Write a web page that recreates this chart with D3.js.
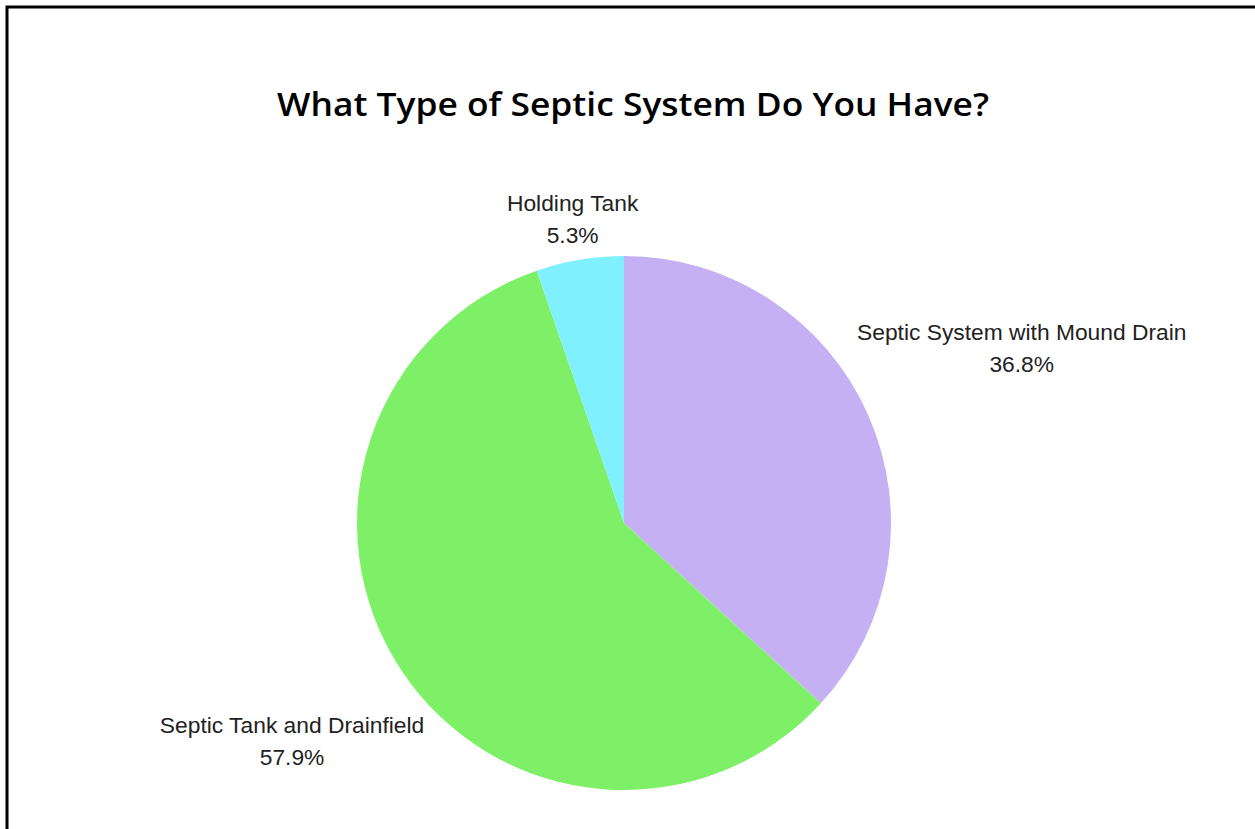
<!DOCTYPE html>
<html><head><meta charset="utf-8">
<script src="https://cdn.jsdelivr.net/npm/d3@7"></script>
<style>html,body{margin:0;padding:0;background:#fff;}svg{display:block;}</style>
</head><body>
<svg id="chart" width="1255" height="829"></svg>
<script>
const categories = ["Septic System with Mound Drain", "Septic Tank and Drainfield", "Holding Tank"];
const values = [36.8, 57.9, 5.3];
const valueLabels = ["36.8%", "57.9%", "5.3%"];
const colors = ["#c5b0f4", "#7ef068", "#80f0fe"];
const title = "What Type of Septic System Do You Have?";

const svg = d3.select("#chart");
const W = 1255, H = 829;

// frame
svg.append("rect").attr("x", 7).attr("y", 7).attr("width", W + 20).attr("height", H + 20)
  .attr("fill", "#fff").attr("stroke", "#000").attr("stroke-width", 3);

svg.append("text").attr("x", 633).attr("y", 116).attr("text-anchor", "middle")
  .attr("font-family", "'Open Sans', Lato, sans-serif").attr("font-size", 33).attr("font-weight", 600)
  .attr("textLength", 712).attr("lengthAdjust", "spacingAndGlyphs")
  .attr("fill", "#000").text(title);

const cx = 624, cy = 523, r = 267;
const data = categories.map((c, i) => ({name: c, value: values[i], label: valueLabels[i], color: colors[i]}));
const pie = d3.pie().value(d => d.value).sort(null);
const arc = d3.arc().innerRadius(0).outerRadius(r);
const arcs = pie(data);

const g = svg.append("g").attr("transform", `translate(${cx},${cy})`);
g.selectAll("path").data(arcs).join("path").attr("d", arc).attr("fill", d => d.data.color);

// labels placed along the mid-angle so nearest box point sits just outside the pie
const pad = 8;
arcs.forEach(a => {
  const mid = (a.startAngle + a.endAngle) / 2;
  const dx = Math.sin(mid), dy = -Math.cos(mid);
  const t = g.append("text").attr("text-anchor", "middle")
    .attr("font-family", "'Liberation Sans', Arial, sans-serif").attr("font-size", 22.8).attr("fill", "#222");
  t.append("tspan").attr("x", 0).attr("y", 0).text(a.data.name);
  t.append("tspan").attr("x", 0).attr("y", 32).text(a.data.label);
  const bb = t.node().getBBox();
  const bcx = bb.x + bb.width / 2, bcy = bb.y + bb.height / 2;
  const hw = bb.width / 2, hh = bb.height / 2;
  function nearest(d) {
    const px = d * dx, py = d * dy;
    const qx = Math.max(px - hw, Math.min(0, px + hw));
    const qy = Math.max(py - hh, Math.min(0, py + hh));
    return Math.hypot(qx, qy);
  }
  let lo = 0, hi = 2000;
  for (let k = 0; k < 60; k++) {
    const m = (lo + hi) / 2;
    if (nearest(m) < r + pad) lo = m; else hi = m;
  }
  const px = hi * dx, py = hi * dy;
  t.attr("transform", `translate(${px - bcx},${py - bcy})`);
});
</script>
</body></html>
